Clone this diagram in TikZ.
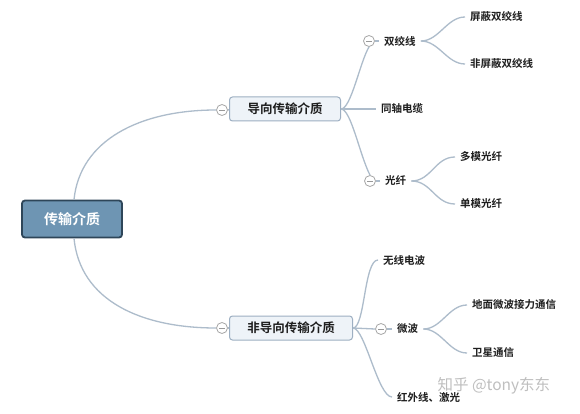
\documentclass[tikz,border=0pt]{standalone}
\usepackage{fontspec}
\setmainfont{Noto Sans CJK SC}[BoldFont={Noto Sans CJK SC Bold}]
\usetikzlibrary{positioning}
\definecolor{rootfill}{HTML}{6E95B3}
\definecolor{rootline}{HTML}{2E4659}
\definecolor{topicfill}{HTML}{EEF3F8}
\definecolor{topicline}{HTML}{9DAFC2}
\definecolor{branch}{HTML}{ADBCCB}
\definecolor{inktext}{HTML}{1E1E1E}
\tikzset{
  root/.style={draw=rootline, line width=1.8pt, fill=rootfill, rounded corners=3pt,
    minimum width=100pt, minimum height=37pt, text=white, font=\fontsize{14}{16}\selectfont\bfseries},
  topic/.style={draw=topicline, line width=1pt, fill=topicfill, rounded corners=3pt,
    minimum height=24pt, inner xsep=8pt, text=inktext, font=\fontsize{12.5}{14}\selectfont\bfseries},
  sub/.style={anchor=west, inner xsep=5pt, inner ysep=2pt, text=inktext, font=\fontsize{10.5}{12}\selectfont\bfseries},
  fold/.style={circle, draw=gray!70, fill=white, line width=0.8pt, minimum size=11pt, inner sep=0pt,
    path picture={\draw[gray!80, line width=0.8pt] ([xshift=-3pt]path picture bounding box.center) -- ([xshift=3pt]path picture bounding box.center);}},
  link/.style={draw=branch, line width=1.3pt}
}
\begin{document}
\begin{tikzpicture}[x=1pt, y=-1pt]
  \useasboundingbox[fill=white] (0,0) rectangle (580,414);

  % Nodes
  \node[root] at (72,219) (media) {传输介质};
  \node[fold] at (222,110) (fguided) {};
  \node[topic, anchor=west, minimum width=111pt] at (229,109) (guided) {导向传输介质};
  \node[fold] at (222,328) (funguided) {};
  \node[topic, anchor=west, minimum width=123pt] at (229,328) (unguided) {非导向传输介质};

  \node[fold] at (369,41) (ftwisted) {};
  \node[sub] at (379,41) (twisted) {双绞线};
  \node[sub] at (465,17) (shielded) {屏蔽双绞线};
  \node[sub] at (465,64) (unshielded) {非屏蔽双绞线};
  \node[sub] at (376,109) (coax) {同轴电缆};
  \node[fold] at (370,181) (ffiber) {};
  \node[sub] at (380,181) (fiber) {光纤};
  \node[sub] at (455,157) (multimode) {多模光纤};
  \node[sub] at (455,204) (singlemode) {单模光纤};

  \node[sub] at (378,260) (radio) {无线电波};
  \node[fold] at (381,329) (fmicro) {};
  \node[sub] at (392,329) (micro) {微波};
  \node[sub] at (467,305) (relay) {地面微波接力通信};
  \node[sub] at (467,353) (satellite) {卫星通信};
  \node[sub] at (392,397) (infrared) {红外线、激光};

  \node[anchor=west, text=gray!50, font=\fontsize{15.5}{17}\selectfont] at (434,386) (mark) {知乎 @tony东东};

  % Branches
  \draw[link] ([xshift=2pt]media.north) .. controls (80,140) and (140,110) .. (fguided.west);
  \draw[link] ([xshift=2pt]media.south) .. controls (80,300) and (140,328) .. (funguided.west);
  \draw[link] (fguided) -- (guided);
  \draw[link] (funguided) -- (unguided);

  \draw[link] (guided.east) .. controls +(10,0) and (360,62) .. (ftwisted.south);
  \draw[link] (guided.east) -- (coax.west);
  \draw[link] (guided.east) .. controls +(10,0) and (360,156) .. (ffiber.north);
  \draw[link] (ftwisted) -- (twisted);
  \draw[link] (ffiber) -- (fiber);

  \draw[link] (twisted.east) .. controls +(18,0) and +(-18,0) .. (shielded.west);
  \draw[link] (twisted.east) .. controls +(18,0) and +(-18,0) .. (unshielded.west);
  \draw[link] (fiber.east) .. controls +(20,0) and +(-20,0) .. (multimode.west);
  \draw[link] (fiber.east) .. controls +(20,0) and +(-20,0) .. (singlemode.west);

  \draw[link] (unguided.east) .. controls +(12,0) and +(-14,0) .. (radio.west);
  \draw[link] (unguided.east) -- (fmicro.west);
  \draw[link] (fmicro) -- (micro);
  \draw[link] (unguided.east) .. controls +(12,0) and +(-14,0) .. (infrared.west);
  \draw[link] (micro.east) .. controls +(18,0) and +(-18,0) .. (relay.west);
  \draw[link] (micro.east) .. controls +(18,0) and +(-18,0) .. (satellite.west);
\end{tikzpicture}
\end{document}
